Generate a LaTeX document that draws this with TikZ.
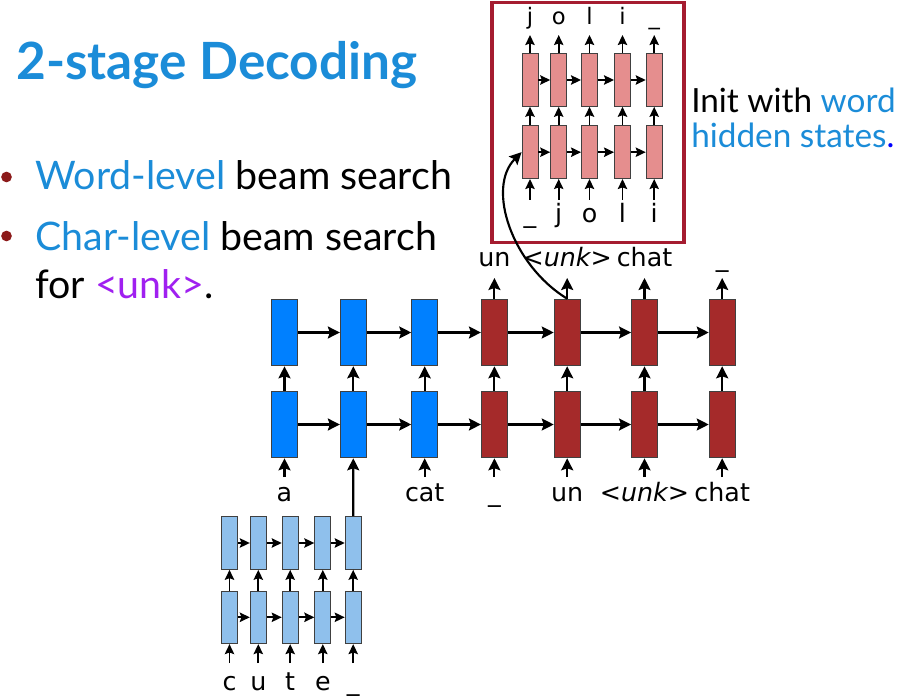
\documentclass[tikz,border=0pt]{standalone}
\usepackage{fontspec}
\setmainfont{Lato}
\newfontfamily\labelfont{DejaVu Sans}
\usetikzlibrary{arrows.meta,positioning}
\definecolor{slideblue}{RGB}{27,140,216}
\definecolor{bulletred}{RGB}{140,26,26}
\definecolor{unkpurple}{RGB}{160,32,240}
\definecolor{framered}{RGB}{165,28,48}
\definecolor{wordblue}{RGB}{0,128,255}
\definecolor{wordred}{RGB}{165,42,42}
\definecolor{charblue}{RGB}{143,192,236}
\definecolor{charpink}{RGB}{229,142,142}
\tikzset{
  >={Stealth[length=9pt,width=9pt,inset=1.5pt]},
  wordcell/.style={draw=black!75, line width=0.7pt, minimum width=19.5pt, minimum height=50pt, inner sep=0pt},
  charcell/.style={draw=black!75, line width=0.7pt, minimum width=12pt, minimum height=39.5pt, inner sep=0pt},
  flow/.style={->, line width=1.6pt},
  smallflow/.style={-{Stealth[length=7.5pt,width=7pt,inset=1.2pt]}, line width=1.4pt},
  tok/.style={font=\labelfont\fontsize{19}{19}\selectfont, anchor=base, inner sep=0pt},
  toptok/.style={font=\labelfont\fontsize{17}{17}\selectfont, anchor=base, inner sep=0pt},
  slidetext/.style={anchor=base west, inner sep=0pt, font=\fontsize{29.5}{29.5}\selectfont},
  bulletdot/.style={circle, fill=bulletred, minimum size=8pt, inner sep=0pt},
  framebox/.style={draw=framered, line width=2.3pt, minimum width=144pt, minimum height=180pt},
}
\begin{document}
\begin{tikzpicture}[x=0.75pt, y=-0.75pt]
  \useasboundingbox (0,0) rectangle (901,699);

  \node[anchor=base west, inner sep=0pt, text=slideblue, font=\fontsize{38.5}{38.5}\selectfont\bfseries] (title) at (16,80) {2-stage Decoding};
  \node[bulletdot] (dot1) at (6.5,177) {};
  \node[bulletdot] (dot2) at (6.5,236) {};
  \node[slidetext] (item1) at (35,190) {\textcolor{slideblue}{Word-level} beam search};
  \node[slidetext] (item2) at (35,250) {\textcolor{slideblue}{Char-level} beam search};
  \node[slidetext] (item3) at (35,298) {for \textcolor{unkpurple}{<unk>}.};

  \node[slidetext, font=\fontsize{25}{25}\selectfont] (note1) at (691,113) {Init with \textcolor{slideblue}{word}};
  \node[slidetext, font=\fontsize{25}{25}\selectfont] (note2) at (691,148) {\textcolor{slideblue}{hidden states}\textcolor{blue}{.}};

  % word-level decoder
  \foreach \x/\c [count=\i] in {284.5/wordblue,353.3/wordblue,424.7/wordblue,494.4/wordred,567.2/wordred,644.5/wordred,722.2/wordred} {
    \node[wordcell, fill=\c] (wa\i) at (\x,424.5) {};
    \node[wordcell, fill=\c] (wb\i) at (\x,332.5) {};
    \draw[flow] (wa\i) -- (wb\i);
  }
  \foreach \i/\j in {1/2,2/3,3/4,4/5,5/6,6/7} {
    \draw[flow] (wa\i) -- (wa\j);
    \draw[flow] (wb\i) -- (wb\j);
  }
  \foreach \i/\t in {1/a,3/cat,4/\_,5/un,6/\textit{<unk>},7/chat} {
    \coordinate (wi\i) at (wa\i.south |- 0,477);
    \draw[flow] (wi\i) -- (wa\i);
    \node[tok] (wl\i) at (wa\i.south |- 0,501.7) {\t};
  }
  \foreach \i/\t in {4/un,5/\textit{<unk>},6/chat,7/\_} {
    \coordinate (wo\i) at (wb\i.north |- 0,278);
    \draw[flow] (wb\i) -- (wo\i);
    \node[tok] (wt\i) at (wb\i.north |- 0,267) {\t};
  }

  % char-level encoder
  \foreach \x/\t [count=\i] in {229.5/c,258.3/u,290.2/t,322.8/e,353.2/\_} {
    \node[charcell, fill=charblue] (ca\i) at (\x,617.3) {};
    \node[charcell, fill=charblue] (cb\i) at (\x,543) {};
    \draw[smallflow] (ca\i) -- (cb\i);
    \coordinate (ci\i) at (\x,663);
    \draw[smallflow] (ci\i) -- (ca\i);
    \node[tok] (cl\i) at (\x,690) {\t};
  }
  \foreach \i/\j in {1/2,2/3,3/4,4/5} {
    \draw[smallflow] (ca\i) -- (ca\j);
    \draw[smallflow] (cb\i) -- (cb\j);
  }
  \draw[flow] (cb5) -- (wa2);

  % char-level decoder
  \node[framebox] (initbox) at (588,122.5) {};
  \foreach \x/\s/\t [count=\i] in {530/\_/j,558.7/j/o,589.5/o/l,622.5/l/i,654.2/i/\_} {
    \node[charcell, fill=charpink] (pa\i) at (\x,152.2) {};
    \node[charcell, fill=charpink] (pb\i) at (\x,80) {};
    \draw[smallflow] (pa\i) -- (pb\i);
    \coordinate (pi\i) at (\x,200);
    \draw[smallflow] (pi\i) -- (pa\i);
    \node[tok] (pl\i) at (\x,223) {\s};
    \coordinate (po\i) at (\x,35);
    \draw[smallflow] (pb\i) -- (po\i);
    \node[toptok] (pt\i) at (\x,25) {\t};
  }
  \foreach \i/\j in {1/2,2/3,3/4,4/5} {
    \draw[smallflow] (pa\i) -- (pa\j);
    \draw[smallflow] (pb\i) -- (pb\j);
  }
  \draw[flow] (wb5.north) .. controls (512,265) and (486,188) .. (pa1.west);
\end{tikzpicture}
\end{document}
